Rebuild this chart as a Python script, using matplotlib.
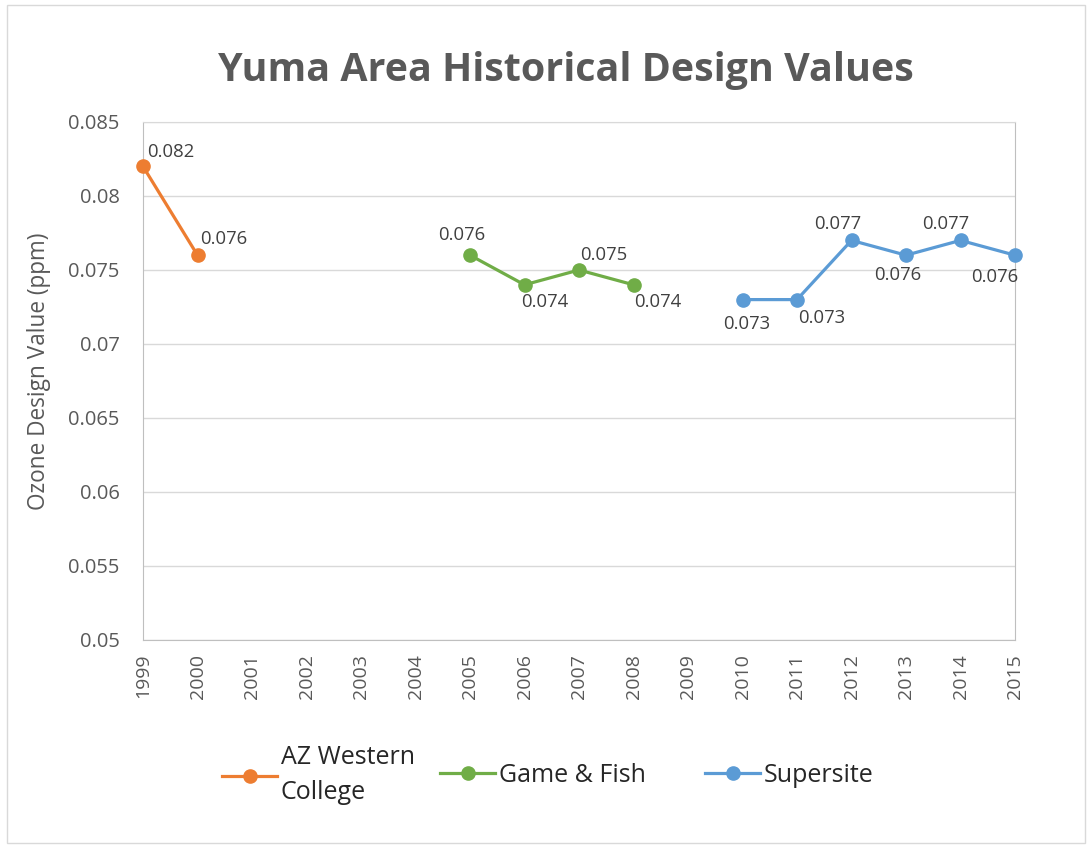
import numpy as np
import matplotlib.pyplot as plt
from matplotlib.patches import Rectangle

plt.rcParams['font.family'] = ['Open Sans', 'DejaVu Sans']

# Ozone design values (ppm) by monitoring site
years = list(range(1999, 2016))
azwc_years = [1999, 2000]
azwc_vals = [0.082, 0.076]
gf_years = [2005, 2006, 2007, 2008]
gf_vals = [0.076, 0.074, 0.075, 0.074]
ss_years = [2010, 2011, 2012, 2013, 2014, 2015]
ss_vals = [0.073, 0.073, 0.077, 0.076, 0.077, 0.076]

# data label offsets in pixels (x right, y up) from each point
azwc_off = [(28, 14), (26, 16)]
gf_off = [(-8, 20), (20, -17), (25, 15), (24, -17)]
ss_off = [(4, -24), (25, -18), (-14, 16), (-8, -20), (-15, 16), (-20, -22)]

txt = '#595959'
grid_c = '#d9d9d9'

fig = plt.figure(figsize=(10.9, 8.46), dpi=100)
ax = fig.add_axes([0.1312, 0.2435, 0.8, 0.6123])

series = [
    (azwc_years, azwc_vals, '#ED7D31', 'AZ Western\nCollege', azwc_off),
    (gf_years, gf_vals, '#70AD47', 'Game & Fish', gf_off),
    (ss_years, ss_vals, '#5B9BD5', 'Supersite', ss_off),
]
handles = []
for xs, ys, c, lab, offs in series:
    ln, = ax.plot(xs, ys, '-o', color=c, lw=2.3, ms=9.5, label=lab, clip_on=False, zorder=3)
    handles.append(ln)
    for x, y, (dx, dy) in zip(xs, ys, offs):
        ax.annotate(f'{y:.3f}', (x, y), xytext=(dx, dy), textcoords='offset pixels',
                    ha='center', va='center', fontsize=13.3, color='#404040')

ax.set_xlim(1999, 2015)
ax.set_ylim(0.05, 0.085)
ax.set_xticks(years)
ax.set_xticklabels([str(y) for y in years], rotation=90, fontsize=14, color=txt)
ax.set_yticks(np.arange(0.05, 0.0851, 0.005))
ax.set_yticklabels(['0.05', '0.055', '0.06', '0.065', '0.07', '0.075', '0.08', '0.085'],
                   fontsize=14.5, color=txt)
ax.tick_params(axis='y', length=0, pad=17)
ax.tick_params(axis='x', length=0, pad=10)
ax.yaxis.grid(True, color=grid_c, lw=1)
ax.set_axisbelow(True)
for s in ax.spines.values():
    s.set_color('#bfbfbf')
ax.spines['top'].set_color(grid_c)
ax.set_ylabel('Ozone Design Value (ppm)', fontsize=16.3, color=txt)
ax.yaxis.set_label_coords(-0.105, 0.518)

fig.text(0.519, 0.917, 'Yuma Area Historical Design Values', ha='center', va='center',
         fontsize=28.4, fontweight='bold', color=txt)

# one legend per series, laid out across the bottom
for h, x0 in zip(handles, [0.2037, 0.4037, 0.6468]):
    leg = fig.legend([h], [h.get_label()], loc='center left', bbox_to_anchor=(x0, 0.0839),
                     frameon=False, fontsize=18, handlelength=2.2, handletextpad=0.15,
                     borderpad=0, borderaxespad=0)
    for t in leg.get_texts():
        t.set_color('#262626')
        t.set_linespacing(1.55)

fig.patches.append(Rectangle((0.006, 0.004), 0.989, 0.99, transform=fig.transFigure,
                             fill=False, ec='#d9d9d9', lw=1))

fig.savefig('out.png', dpi=100)
